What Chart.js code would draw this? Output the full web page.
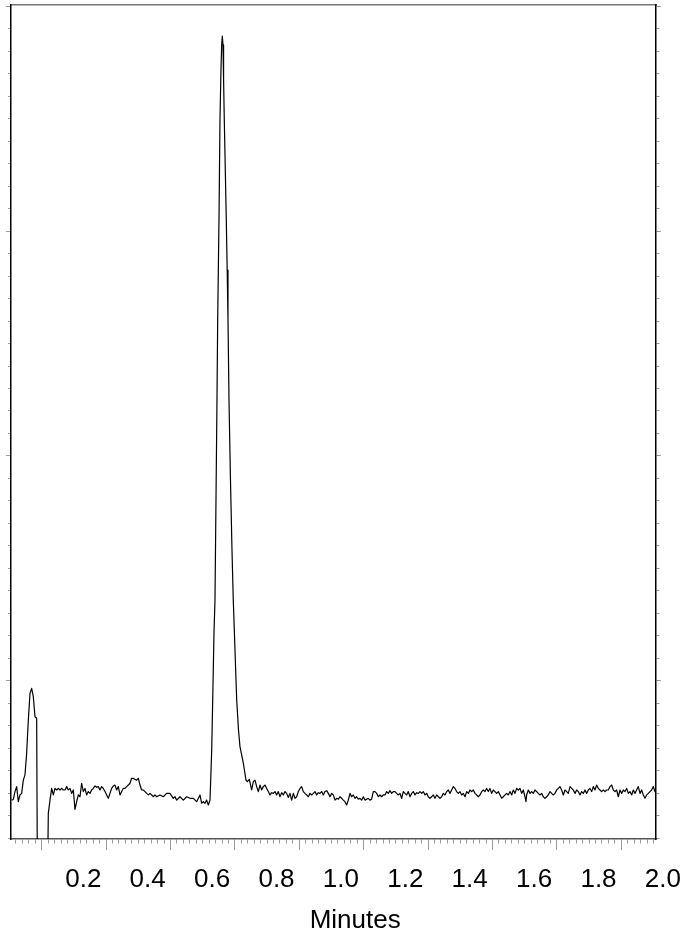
<!DOCTYPE html>
<html>
<head>
<meta charset="utf-8">
<title>Chromatogram</title>
<script src="https://cdn.jsdelivr.net/npm/chart.js@4.4.1/dist/chart.umd.min.js"></script>
<style>
  html, body { margin: 0; padding: 0; background: #fff; }
  #wrap { width: 683px; height: 934px; }
</style>
</head>
<body>
<div id="wrap"><canvas id="chromChart"></canvas></div>
<script>
// trace: [time (min), signal (arb. units, 10 per minor y tick)]
const leadIn = [
  [-0.0225,16.9],[-0.0173,17.2],[-0.0121,20.7],[-0.0069,22.9],[-0.0018,16.2],[0.0034,19.2],[0.0086,19.9],
  [0.0138,25.8],[0.0189,28.1],[0.0241,37.7],[0.0293,52.5],[0.0345,64.4],[0.0396,66.6],[0.0448,62.9],
  [0.0500,54.0],[0.0552,53.3],[0.0573,-15],[0.0892,-15],[0.0914,11.0],[0.0966,16.9],[0.1018,22.1],
  [0.1069,19.2],[0.1121,22.1],[0.1173,21.4],[0.1225,22.1],[0.1276,21.4],[0.1328,22.1],[0.1380,21.4],
  [0.1432,21.4],[0.1483,22.9],[0.1535,21.4],[0.1587,22.1],[0.1639,19.9],[0.1690,21.4],[0.1742,12.8],
  [0.1794,16.2],[0.1846,19.2],[0.1897,18.4],[0.1949,24.4],[0.2001,20.7],[0.2053,22.1],[0.2104,19.2],
  [0.2156,20.7],[0.2208,19.9],[0.2260,21.4],[0.2311,22.1],[0.2363,23.2],[0.2415,22.6],[0.2467,22.9],
  [0.2518,21.4],[0.2570,22.9],[0.2622,22.1],[0.2674,20.7],[0.2725,19.2],[0.2777,17.7],[0.2829,19.9],
  [0.2881,22.1],[0.2933,23.2],[0.2984,23.6],[0.3036,21.4],[0.3088,22.9],[0.3140,19.2],[0.3191,20.7],
  [0.3243,22.1],[0.3295,22.1],[0.3347,22.9],[0.3398,23.6],[0.3450,24.4],[0.3502,26.6],[0.3554,26.6],
  [0.3605,26.1],[0.3657,25.8],[0.3709,26.6],[0.3761,23.6],[0.3812,21.4],[0.3864,21.4],[0.3916,20.7],
  [0.3968,19.9],[0.4019,19.2],[0.4071,19.9],[0.4123,19.2],[0.4175,18.4],[0.4226,19.2],[0.4278,18.4],
  [0.4382,19.2],[0.4485,18.4],[0.4589,19.9],[0.4692,19.9],[0.4796,17.7],[0.4848,18.4],[0.4900,16.9],
  [0.5003,18.4],[0.5107,16.9],[0.5210,18.4],[0.5314,17.7],[0.5417,17.7],[0.5521,16.2],[0.5624,19.2],
  [0.5676,15.5],[0.5728,16.2],[0.5780,15.5],[0.5831,16.9],[0.5883,14.7],[0.5935,16.9]
];

const mainPeak = [
  [0.5957,25.8],[0.5988,39.1],[0.6019,61.4],[0.6059,91.2],[0.6090,105.9],[0.6121,150.4],[0.6152,194.9],
  [0.6174,230.5],[0.6214,274.9],[0.6245,319.4],[0.6276,341.7],[0.6298,352.8],[0.6317,356.8],[0.6339,352.8],
  [0.6357,337.2],[0.6379,319.4],[0.6410,297.2],[0.6441,274.9],[0.6469,252.7],[0.6494,230.5],[0.6525,194.9],
  [0.6571,159.3],[0.6618,128.2],[0.6658,105.9],[0.6711,83.7],[0.6764,61.4],[0.6820,48.1],[0.6866,40.7]
];

const tailBaseline = [
  [0.6970,33.3],[0.7053,25.8],[0.7094,25.1],[0.7156,26.1],[0.7229,21.4],[0.7281,25.1],[0.7332,25.8],
  [0.7384,22.9],[0.7436,20.7],[0.7488,23.6],[0.7539,21.4],[0.7591,22.9],[0.7643,23.6],[0.7695,22.1],
  [0.7746,20.7],[0.7798,19.2],[0.7850,20.2],[0.7902,19.9],[0.7953,20.7],[0.8005,19.2],[0.8057,20.7],
  [0.8109,18.4],[0.8160,20.2],[0.8212,19.2],[0.8264,20.7],[0.8316,19.9],[0.8367,18.1],[0.8419,19.9],
  [0.8471,16.9],[0.8523,19.9],[0.8575,17.7],[0.8626,18.4],[0.8678,20.7],[0.8730,22.1],[0.8782,22.9],
  [0.8833,20.7],[0.8885,19.9],[0.8937,19.2],[0.8989,18.4],[0.9040,19.9],[0.9092,19.2],[0.9144,19.9],
  [0.9196,20.7],[0.9247,19.2],[0.9299,20.2],[0.9351,19.9],[0.9403,20.7],[0.9454,19.2],[0.9506,20.7],
  [0.9558,21.1],[0.9610,19.9],[0.9661,18.4],[0.9713,19.9],[0.9765,19.2],[0.9817,16.9],[0.9869,17.7],
  [0.9920,17.3],[0.9972,18.4],[1.0024,17.7],[1.0076,16.9],[1.0127,16.2],[1.0179,14.7],[1.0231,16.9],
  [1.0283,19.9],[1.0334,18.4],[1.0386,19.2],[1.0438,17.7],[1.0490,18.4],[1.0541,17.3],[1.0593,17.7],
  [1.0645,16.9],[1.0697,18.4],[1.0748,16.9],[1.0800,17.3],[1.0852,17.7],[1.0904,16.9],[1.0955,17.3],
  [1.1007,20.7],[1.1059,20.7],[1.1111,19.9],[1.1163,18.4],[1.1214,19.2],[1.1266,18.4],[1.1318,19.2],
  [1.1370,19.2],[1.1421,20.7],[1.1473,19.9],[1.1525,21.1],[1.1577,19.9],[1.1628,20.7],[1.1680,20.7],
  [1.1732,19.9],[1.1784,19.2],[1.1835,19.9],[1.1887,17.7],[1.1939,20.7],[1.1991,19.9],[1.2042,19.2],
  [1.2094,20.7],[1.2146,18.4],[1.2198,19.9],[1.2249,20.7],[1.2301,19.2],[1.2353,20.2],[1.2405,19.9],
  [1.2457,20.7],[1.2508,19.9],[1.2560,20.7],[1.2612,19.2],[1.2664,19.9],[1.2715,18.4],[1.2767,17.7],
  [1.2819,18.4],[1.2871,19.2],[1.2922,17.7],[1.2974,19.2],[1.3026,18.4],[1.3078,17.7],[1.3129,18.4],
  [1.3181,19.9],[1.3233,19.2],[1.3285,20.7],[1.3336,21.4],[1.3388,19.9],[1.3440,21.4],[1.3492,22.9],
  [1.3543,22.1],[1.3595,20.7],[1.3647,19.9],[1.3699,20.7],[1.3750,19.2],[1.3802,19.9],[1.3854,18.4],
  [1.3906,20.7],[1.3958,19.9],[1.4009,21.4],[1.4061,20.7],[1.4113,21.4],[1.4165,19.9],[1.4216,19.2],
  [1.4268,18.4],[1.4320,19.2],[1.4372,20.7],[1.4423,21.4],[1.4475,20.7],[1.4527,22.1],[1.4579,20.7],
  [1.4630,22.1],[1.4682,19.9],[1.4734,21.4],[1.4786,20.7],[1.4837,19.9],[1.4889,20.7],[1.4941,19.2],
  [1.4993,17.7],[1.5044,18.4],[1.5096,19.2],[1.5148,19.9],[1.5200,19.2],[1.5251,20.7],[1.5303,19.2],
  [1.5355,21.4],[1.5407,19.9],[1.5459,22.1],[1.5510,21.4],[1.5562,22.1],[1.5614,19.9],[1.5666,21.4],
  [1.5717,18.4],[1.5748,16.2],[1.5769,19.2],[1.5821,21.4],[1.5873,19.9],[1.5924,20.7],[1.5976,19.9],
  [1.6028,21.4],[1.6080,20.7],[1.6131,19.9],[1.6183,19.2],[1.6235,19.9],[1.6287,18.4],[1.6338,17.7],
  [1.6390,18.4],[1.6442,19.2],[1.6494,20.7],[1.6545,19.9],[1.6597,19.2],[1.6649,19.9],[1.6701,21.4],
  [1.6752,22.1],[1.6804,22.9],[1.6856,21.4],[1.6908,19.2],[1.6960,21.4],[1.7011,20.7],[1.7063,19.9],
  [1.7115,22.9],[1.7167,22.1],[1.7218,21.4],[1.7270,19.9],[1.7322,21.4],[1.7374,20.7],[1.7425,19.2],
  [1.7477,20.7],[1.7529,19.9],[1.7581,21.4],[1.7632,19.9],[1.7684,21.4],[1.7736,22.1],[1.7788,20.7],
  [1.7839,22.9],[1.7891,21.4],[1.7943,23.6],[1.7995,22.1],[1.8046,21.4],[1.8098,20.7],[1.8150,21.4],
  [1.8202,20.7],[1.8253,21.4],[1.8305,21.4],[1.8357,22.9],[1.8409,23.6],[1.8461,21.4],[1.8512,20.7],
  [1.8564,21.4],[1.8616,18.4],[1.8668,21.4],[1.8719,19.9],[1.8771,21.4],[1.8823,20.7],[1.8875,22.1],
  [1.8926,19.9],[1.8978,20.7],[1.9030,19.2],[1.9082,21.4],[1.9133,19.9],[1.9185,21.4],[1.9237,22.9],
  [1.9289,19.9],[1.9340,21.4],[1.9392,19.2],[1.9444,17.7],[1.9496,19.2],[1.9547,19.9],[1.9599,20.7],
  [1.9651,21.4],[1.9703,22.9],[1.9754,20.7],[1.9806,19.9]
];

// tick labels on the time axis
const xLabels = [0.2, 0.4, 0.6, 0.8, 1.0, 1.2, 1.4, 1.6, 1.8, 2.0];

const X_MIN = -0.0245, X_MAX = 1.9786;
const Y_MIN = -0.4, Y_MAX = 370.6;

// the tick marks on the time axis do not line up with the labels in the original
const xMarkStart = 0.0708, xMarkStep = 0.02;
let xMarks = [];
for (let k = -4; k <= 95; k++) {
    xMarks.push({ value: xMarkStart + k * xMarkStep, major: k % 10 === 0 });
}
let yMarks = [];
for (let v = 0; v <= 370; v += 10) {
    yMarks.push({ value: v, major: v % 100 === 70 });
}

const fontFamily = "'Liberation Sans', Arial, Helvetica, sans-serif";

const trace = leadIn.concat(mainPeak, tailBaseline).map(p => ({ x: p[0], y: p[1] }));

function markAxis(position, marks, len, dash, dashOffset, weight) {
    let vertical = position === 'left' || position === 'right';
    return {
        type: 'linear',
        position: position,
        weight: weight || 0,
        min: vertical ? Y_MIN : X_MIN,
        max: vertical ? Y_MAX : X_MAX,
        afterBuildTicks: axis => { axis.ticks = marks.map(m => ({ value: m.value, major: m.major })); },
        ticks: { display: false },
        grid: {
            display: true,
            drawOnChartArea: false,
            drawTicks: true,
            tickLength: len,
            tickColor: '#9a9a9a',
            tickWidth: 1,
            tickBorderDash: ctx => (ctx.tick && ctx.tick.major) ? [] : dash,
            tickBorderDashOffset: ctx => (ctx.tick && ctx.tick.major) ? 0 : dashOffset
        },
        border: {
            display: true,
            color: position === 'bottom' ? '#555' : '#000',
            width: 1.5
        }
    };
}

let chromChart = new Chart(document.querySelector('#chromChart').getContext('2d'), {
    type: 'line',
    data: {
        datasets: [{
            data: trace,
            borderColor: '#000',
            borderWidth: 1.2,
            borderJoinStyle: 'round',
            pointRadius: 0,
            tension: 0,
            fill: false
        }]
    },
    options: {
        responsive: true,
        maintainAspectRatio: false,
        animation: false,
        layout: { padding: { left: 6, right: 22, top: 5, bottom: 0 } },
        plugins: {
            legend: { display: false },
            tooltip: { enabled: false }
        },
        scales: {
            xt: markAxis('bottom', xMarks, 11, [4, 40], 0, 0),
            x: {
                type: 'linear',
                position: 'bottom',
                weight: 1,
                min: X_MIN,
                max: X_MAX,
                afterBuildTicks: axis => { axis.ticks = xLabels.map(v => ({ value: v })); },
                afterFit: axis => { axis.paddingLeft = 0; axis.paddingRight = 0; },
                grid: { display: false, drawTicks: false },
                border: { display: false },
                ticks: {
                    autoSkip: false,
                    maxRotation: 0,
                    minRotation: 0,
                    padding: 14.5,
                    color: '#000',
                    font: { family: fontFamily, size: 26 },
                    callback: v => Number(v).toFixed(1)
                },
                title: {
                    display: true,
                    text: '      Minutes',
                    color: '#000',
                    font: { family: fontFamily, size: 26, lineHeight: 0.8 },
                    padding: { top: 0, bottom: 3 }
                }
            },
            xTop: {
                type: 'linear',
                position: 'top',
                min: X_MIN,
                max: X_MAX,
                ticks: { display: false },
                grid: { display: true, drawOnChartArea: false, drawTicks: false },
                border: { display: true, color: '#777', width: 1.5 }
            },
            y: markAxis('left', yMarks, 5, [3, 2], 3),
            yRight: markAxis('right', yMarks, 5, [3, 40], 0)
        }
    }
});
</script>
</body>
</html>
